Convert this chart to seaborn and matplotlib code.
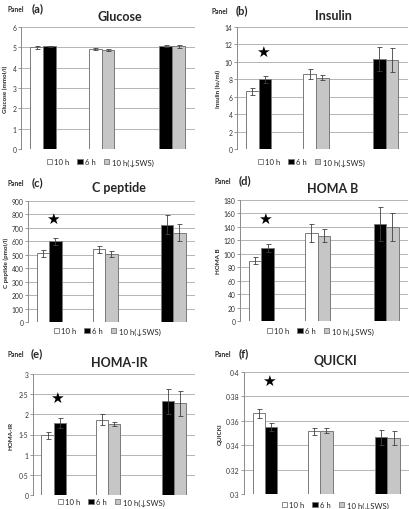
import matplotlib
matplotlib.use("Agg")
import matplotlib.pyplot as plt
from matplotlib.patches import Patch
import seaborn as sns
import pandas as pd

sns.set_theme(style="white")
plt.rcParams['font.family'] = ['Lato', 'DejaVu Sans']

# ---------------- data ----------------
conditions = ["10 h", "6 h", "10 h(\u2193SWS)"]
bar_condition = ["10 h", "6 h", "10 h", "10 h(\u2193SWS)", "6 h", "10 h(\u2193SWS)"]
bar_group = [0, 0, 1, 1, 2, 2]

titles = ["Glucose", "Insulin", "C peptide", "HOMA B", "HOMA-IR", "QUICKI"]
panel_letters = ["(a)", "(b)", "(c)", "(d)", "(e)", "(f)"]
ylabels = ["Glucose (mmol/l)", "Insulin (Iu/ml)", "C peptide (pmol/l)", "HOMA B", "HOMA-IR", "QUICKI"]

glucose_mean = [5.00, 5.05, 4.92, 4.88, 5.05, 5.05]
glucose_err = [0.06, 0.03, 0.07, 0.06, 0.05, 0.07]
insulin_mean = [6.6, 8.0, 8.6, 8.2, 10.3, 10.2]
insulin_err = [0.4, 0.4, 0.6, 0.3, 1.4, 1.4]
cpeptide_mean = [510, 600, 540, 505, 725, 665]
cpeptide_err = [25, 25, 25, 25, 70, 65]
homab_mean = [90, 108, 131, 127, 144, 140]
homab_err = [5, 6, 14, 10, 25, 21]
homair_mean = [1.48, 1.79, 1.87, 1.76, 2.33, 2.27]
homair_err = [0.09, 0.12, 0.13, 0.06, 0.31, 0.32]
quicki_mean = [0.366, 0.355, 0.3515, 0.352, 0.3465, 0.346]
quicki_err = [0.004, 0.003, 0.003, 0.002, 0.006, 0.006]

means = [glucose_mean, insulin_mean, cpeptide_mean, homab_mean, homair_mean, quicki_mean]
errs = [glucose_err, insulin_err, cpeptide_err, homab_err, homair_err, quicki_err]

yticks = [
    [0, 1, 2, 3, 4, 5, 6],
    [0, 2, 4, 6, 8, 10, 12, 14],
    [0, 100, 200, 300, 400, 500, 600, 700, 800, 900],
    [0, 20, 40, 60, 80, 100, 120, 140, 160, 180],
    [0, 0.5, 1, 1.5, 2, 2.5, 3],
    [0.3, 0.32, 0.34, 0.36, 0.38, 0.4],
]
ytick_labels = [
    ["0", "1", "2", "3", "4", "5", "6"],
    ["0", "2", "4", "6", "8", "10", "12", "14"],
    ["0", "100", "200", "300", "400", "500", "600", "700", "800", "900"],
    ["0", "20", "40", "60", "80", "100", "120", "140", "160", "180"],
    ["0", "0\u00b75", "1", "1\u00b75", "2", "2\u00b75", "3"],
    ["0\u00b73", "0\u00b732", "0\u00b734", "0\u00b736", "0\u00b738", "0\u00b74"],
]
star_y = [None, 11.2, 770, 152, 2.43, 0.393]

# ---------------- layout ----------------
W, H = 410, 510
palette = {"10 h": "#ffffff", "6 h": "#000000", "10 h(\u2193SWS)": "#c6c6c6"}
edge = "#7a7a7a"
group_centers = [1.7, 6.2, 11.65]
x_max = 13.4

# (left, right, top, bottom) of each axes in pixels
axes_px = [
    (21, 195, 28, 150), (237, 408, 28, 150),
    (28, 195, 202, 323), (240, 408, 201, 322),
    (33, 195, 375, 496), (244, 409, 373, 495),
]
title_xy = [(120, 17), (333, 16), (119, 188), (333, 189), (119, 363), (335, 361)]
panel_xy = [(8, 10), (212, 12), (8, 184), (215, 182), (7, 355), (215, 355)]
ylabel_x = [5, 218, 6, 219, 11, 220]
legend_xy = [(100, 163), (311, 163), (107, 332), (320, 332), (111, 503), (335, 506)]

fig = plt.figure(figsize=(W / 100, H / 100), dpi=100)
fig.patch.set_facecolor("white")

for i in range(6):
    l, r, t, b = axes_px[i]
    ax = fig.add_axes([l / W, 1 - b / H, (r - l) / W, (b - t) / H])
    pos = [group_centers[g] + (-0.5 if k % 2 == 0 else 0.5) for k, g in enumerate(bar_group)]
    df = pd.DataFrame({"pos": pos, "value": means[i], "condition": bar_condition})
    sns.barplot(data=df, x="pos", y="value", hue="condition", hue_order=conditions,
                palette=palette, native_scale=True, dodge=False, width=1.0,
                errorbar=None, legend=False, ax=ax, edgecolor=edge, linewidth=0.7)
    ax.errorbar(pos, means[i], yerr=errs[i], fmt="none", ecolor="#404040",
                elinewidth=0.6, capsize=1.8, capthick=0.6, zorder=5)
    lo, hi = yticks[i][0], yticks[i][-1]
    ax.set_ylim(lo, hi)
    ax.set_xlim(0, x_max)
    ax.set_yticks(yticks[i])
    ax.set_yticklabels(ytick_labels[i], fontsize=4.9, color="#333333")
    ax.set_xticks([])
    ax.set_xlabel("")
    ax.set_ylabel("")
    ax.yaxis.grid(True, color="#b4b4b4", linewidth=0.7)
    ax.set_axisbelow(True)
    for s in ["top", "right", "bottom"]:
        ax.spines[s].set_visible(False)
    ax.spines["left"].set_color("#8a8a8a")
    ax.spines["left"].set_linewidth(0.7)
    ax.tick_params(axis="y", length=2, width=0.6, color="#8a8a8a", pad=1.2, direction="out", left=True)
    ax.axhline(lo, color="#8a8a8a", linewidth=0.7, zorder=1)
    if star_y[i] is not None:
        ax.text(group_centers[0] + 0.3, star_y[i], "\u2605", fontsize=11, ha="center",
                va="center", color="black", family=["DejaVu Sans"])
    # titles and labels
    fig.text(title_xy[i][0] / W, 1 - title_xy[i][1] / H, titles[i], fontsize=9,
             fontweight="bold", ha="center", va="center")
    fig.text(panel_xy[i][0] / W, 1 - panel_xy[i][1] / H, "Panel", fontsize=4.8,
             fontweight="bold", ha="left", va="center")
    fig.text((panel_xy[i][0] + 24) / W, 1 - (panel_xy[i][1] - 1) / H, panel_letters[i],
             fontsize=8, fontweight="bold", ha="left", va="center")
    fig.text(ylabel_x[i] / W, 1 - ((t + b) / 2) / H, ylabels[i], fontsize=4.5,
             fontweight="bold", rotation=90, ha="center", va="center")
    handles = [Patch(facecolor=palette[c], edgecolor=edge, linewidth=0.6) for c in conditions]
    fig.legend(handles, conditions, loc="center",
               bbox_to_anchor=(legend_xy[i][0] / W, 1 - legend_xy[i][1] / H),
               ncol=3, frameon=False, fontsize=5.6, handlelength=0.7, handleheight=0.7,
               handletextpad=0.3, columnspacing=1.0, borderpad=0.1)

fig.savefig("out.png", dpi=100, facecolor="white")
